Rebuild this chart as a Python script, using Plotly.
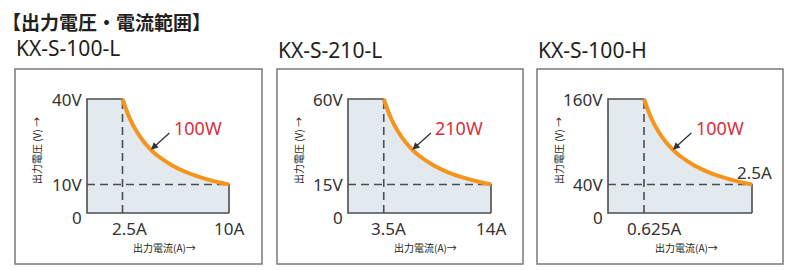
import plotly.graph_objects as go

W, H = 795, 271

# ---- data ----
page_title = "【出力電圧・電流範囲】"
models = ["KX-S-100-L", "KX-S-210-L", "KX-S-100-H"]
power_labels = ["100W", "210W", "100W"]
v_max = [40, 60, 160]
v_min = [10, 15, 40]
i_min = [2.5, 3.5, 0.625]
i_max = [10, 14, 2.5]
v_max_labels = ["40V", "60V", "160V"]
v_min_labels = ["10V", "15V", "40V"]
i_min_labels = ["2.5A", "3.5A", "0.625A"]
i_max_labels = ["10A", "14A", "2.5A"]
# constant-power curve points (current A, voltage V)
curve_i = [
    [2.5, 3, 3.5, 4, 4.5, 5, 6, 7, 8, 9, 10],
    [3.5, 4.2, 4.9, 5.6, 6.3, 7, 8.4, 9.8, 11.2, 12.6, 14],
    [0.625, 0.75, 0.875, 1.0, 1.125, 1.25, 1.5, 1.75, 2.0, 2.25, 2.5],
]
curve_v = [
    [40, 33.3, 28.6, 25, 22.2, 20, 16.7, 14.3, 12.5, 11.1, 10],
    [60, 50, 42.9, 37.5, 33.3, 30, 25, 21.4, 18.75, 16.7, 15],
    [160, 133.3, 114.3, 100, 88.9, 80, 66.7, 57.1, 50, 44.4, 40],
]
y_title = "出力電圧 (V) →"
x_title = "出力電流(A)→"

# ---- layout geometry (pixels) ----
plot_left = [87, 348, 608]
plot_right = [229, 491, 752]
plot_top, plot_bottom = 99, 213
box_left = [15, 277, 537]
box_right = [262, 523, 783]
box_top, box_bottom = 69, 264
pad = 6

FONT = "Noto Sans, Noto Sans CJK JP, sans-serif"
CJK = "Noto Sans CJK JP, sans-serif"
DARK = "#231f20"
ORANGE = "#f7941d"
FILL = "#e2eaf0"
OUTLINE = "#4d4d4d"
RED = "#d9303c"


def px(x):
    return x / W


def py(y):
    return 1 - y / H


fig = go.Figure()
annotations = []
shapes = []

for k in range(3):
    ax_id = "" if k == 0 else str(k + 1)
    xa, ya = "x" + ax_id, "y" + ax_id
    L, R = plot_left[k], plot_right[k]
    sx = i_max[k] / (R - L)
    sy = v_max[k] / (plot_bottom - plot_top)

    xaxis = dict(domain=[px(L - pad), px(R + pad)],
                 range=[-pad * sx, i_max[k] + pad * sx],
                 visible=False, fixedrange=True, anchor=ya)
    yaxis = dict(domain=[py(plot_bottom + pad), py(plot_top - pad)],
                 range=[-pad * sy, v_max[k] + pad * sy],
                 visible=False, fixedrange=True, anchor=xa)
    fig.update_layout(**{"xaxis" + ax_id: xaxis, "yaxis" + ax_id: yaxis})

    # shaded operating region
    fig.add_trace(go.Scatter(
        x=[i_max[k], 0, 0] + curve_i[k] + [i_max[k]],
        y=[0, 0, v_max[k]] + curve_v[k] + [0],
        mode="lines", fill="toself", fillcolor=FILL,
        line=dict(color=OUTLINE, width=1.6), xaxis=xa, yaxis=ya,
        hoverinfo="skip", showlegend=False))
    # dashed guides
    fig.add_trace(go.Scatter(
        x=[i_min[k], i_min[k]], y=[0, v_max[k]], mode="lines",
        line=dict(color=OUTLINE, width=1.6, dash="8px,5px"),
        xaxis=xa, yaxis=ya, hoverinfo="skip", showlegend=False))
    fig.add_trace(go.Scatter(
        x=[0, i_max[k]], y=[v_min[k], v_min[k]], mode="lines",
        line=dict(color=OUTLINE, width=1.6, dash="8px,5px"),
        xaxis=xa, yaxis=ya, hoverinfo="skip", showlegend=False))
    # constant power curve
    fig.add_trace(go.Scatter(
        x=curve_i[k], y=curve_v[k], mode="lines",
        line=dict(color=ORANGE, width=4, shape="spline"),
        xaxis=xa, yaxis=ya, hoverinfo="skip", showlegend=False))

    # panel border
    shapes.append(dict(type="rect", xref="paper", yref="paper",
                       x0=px(box_left[k]), x1=px(box_right[k]),
                       y0=py(box_bottom), y1=py(box_top),
                       line=dict(color="#7a7a7a", width=1.5)))

    # model title
    annotations.append(dict(xref="paper", yref="paper",
                            x=px(box_left[k] - 1), y=py(50 if k else 48),
                            xanchor="left", yanchor="middle", showarrow=False,
                            text=models[k], font=dict(family=FONT, size=21, color=DARK)))

    # y tick labels
    tick_font = dict(family=FONT, size=17, color="#333333")
    for val, lab in [(v_max[k], v_max_labels[k]), (v_min[k], v_min_labels[k])]:
        annotations.append(dict(xref=xa, yref=ya, x=0, y=val, xanchor="right",
                                yanchor="middle", xshift=-3, showarrow=False,
                                text=lab, font=tick_font))
    annotations.append(dict(xref=xa, yref=ya, x=0, y=0, xanchor="right",
                            yanchor="middle", xshift=-3, yshift=-4, showarrow=False,
                            text="0", font=tick_font))
    # x tick labels
    annotations.append(dict(xref=xa, yref=ya, x=i_min[k], y=0, xanchor="center",
                            yanchor="middle", xshift=[7, 5, 10][k], yshift=-15,
                            showarrow=False, text=i_min_labels[k], font=tick_font))
    if k < 2:
        annotations.append(dict(xref=xa, yref=ya, x=i_max[k], y=0, xanchor="center",
                                yanchor="middle", yshift=-15, showarrow=False,
                                text=i_max_labels[k], font=tick_font))
    else:
        annotations.append(dict(xref=xa, yref=ya, x=i_max[k], y=v_min[k],
                                xanchor="center", yanchor="middle", xshift=2,
                                yshift=12, showarrow=False,
                                text=i_max_labels[k], font=tick_font))

    # arrow to curve + power label
    tip_i, tip_v = curve_i[k][4], curve_v[k][4]
    annotations.append(dict(xref=xa, yref=ya, x=tip_i, y=tip_v, text="",
                            showarrow=True, ax=20, ay=-18, arrowhead=2,
                            arrowsize=1.1, arrowwidth=1.3, arrowcolor="#333333",
                            standoff=0))
    annotations.append(dict(xref=xa, yref=ya, x=tip_i, y=tip_v, xshift=47,
                            yshift=22, xanchor="center", yanchor="middle",
                            showarrow=False, text=power_labels[k],
                            font=dict(family=FONT, size=18, color=RED)))

    # axis titles
    annotations.append(dict(xref="paper", yref="paper",
                            x=px([36, 298, 558][k]), y=py(151),
                            xanchor="center", yanchor="middle", showarrow=False,
                            textangle=-90, text=y_title,
                            font=dict(family=CJK, size=10, color=DARK)))
    annotations.append(dict(xref="paper", yref="paper",
                            x=px([164.5, 425.5, 686][k]), y=py(247),
                            xanchor="center", yanchor="middle", showarrow=False,
                            text=x_title, font=dict(family=CJK, size=10, color=DARK)))

annotations.append(dict(xref="paper", yref="paper", x=px(0), y=py(21),
                        xanchor="left", yanchor="middle", showarrow=False,
                        text="<b>" + page_title + "</b>",
                        font=dict(family=CJK, size=19, color=DARK)))

fig.update_layout(width=W, height=H, autosize=False,
                  margin=dict(l=0, r=0, t=0, b=0),
                  paper_bgcolor="white", plot_bgcolor="rgba(0,0,0,0)",
                  annotations=annotations, shapes=shapes, showlegend=False)

fig.write_html("out.html", config={"displayModeBar": False},
               post_script="document.body.style.margin='0px';"
                           "document.body.style.overflow='hidden';")
